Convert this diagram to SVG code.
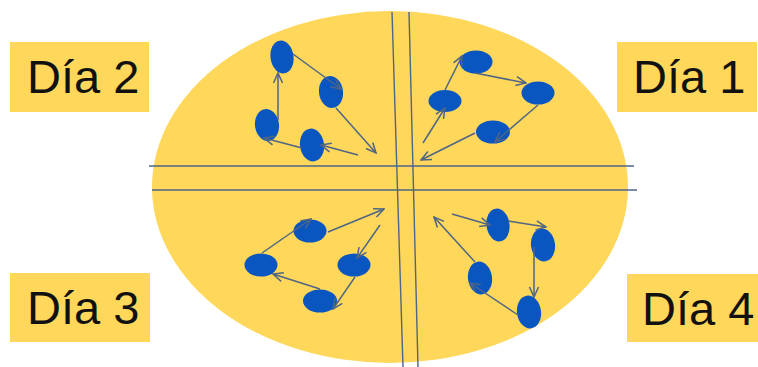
<svg xmlns="http://www.w3.org/2000/svg" width="758" height="367" viewBox="0 0 758 367">
<style>
.lbl{fill:#FFD75A}
.txt{font-family:"Liberation Sans",Arial,sans-serif;font-size:47px;fill:#111}
.node{fill:#0A56C0}
.ax{stroke:#4F6585;stroke-width:1.4;fill:none}
.c{stroke:#4F6585;stroke-width:1.5;fill:none;marker-end:url(#ah)}
</style>
<defs>
<marker id="ah" viewBox="0 0 12 12" refX="11" refY="6" markerWidth="12" markerHeight="12" markerUnits="userSpaceOnUse" orient="auto">
<path d="M1,1.5 L11,6 L1,10.5" fill="none" stroke="#4F6585" stroke-width="1.5"/>
</marker>
</defs>
<rect width="758" height="367" fill="#fff"/>
<g id="plate">
<ellipse cx="390" cy="187" rx="238" ry="176" fill="#FFD75A"/>
<line class="ax" x1="149" y1="166" x2="634" y2="166"/>
<line class="ax" x1="152" y1="190" x2="637" y2="190"/>
<line class="ax" x1="392" y1="12" x2="403" y2="367"/>
<line class="ax" x1="409" y1="12" x2="418" y2="367"/>
</g>
<g id="label-dia2"><rect class="lbl" x="10" y="42" width="139" height="70"/><text class="txt" x="27" y="93">Día 2</text></g>
<g id="label-dia1"><rect class="lbl" x="617" y="42" width="140" height="70"/><text class="txt" x="633" y="93">Día 1</text></g>
<g id="label-dia3"><rect class="lbl" x="10" y="273" width="140" height="69"/><text class="txt" x="27" y="324">Día 3</text></g>
<g id="label-dia4"><rect class="lbl" x="627" y="274" width="131" height="68"/><text class="txt" x="642" y="325">Día 4</text></g>
<g id="nodes-dia2">
<ellipse id="d2a" class="node" cx="282" cy="57" rx="11.5" ry="16.5" transform="rotate(-8 282 57)"/>
<ellipse id="d2b" class="node" cx="331" cy="92" rx="12" ry="16" transform="rotate(-8 331 92)"/>
<ellipse id="d2c" class="node" cx="267" cy="125" rx="12" ry="16" transform="rotate(-8 267 125)"/>
<ellipse id="d2d" class="node" cx="312" cy="145" rx="12" ry="16.5" transform="rotate(-8 312 145)"/>
</g>
<g id="nodes-dia1">
<ellipse id="d1e" class="node" cx="476" cy="62" rx="16.5" ry="11.5"/>
<ellipse id="d1f" class="node" cx="538" cy="93" rx="16.5" ry="11.5"/>
<ellipse id="d1g" class="node" cx="445" cy="101" rx="16.5" ry="11"/>
<ellipse id="d1h" class="node" cx="493" cy="132" rx="17" ry="11.5"/>
</g>
<g id="nodes-dia3">
<ellipse id="d3i" class="node" cx="310" cy="231" rx="16.5" ry="11.5"/>
<ellipse id="d3j" class="node" cx="261" cy="265" rx="16.5" ry="11.5"/>
<ellipse id="d3k" class="node" cx="354" cy="265" rx="16.5" ry="11.5"/>
<ellipse id="d3l" class="node" cx="320" cy="301" rx="17" ry="11.5"/>
</g>
<g id="nodes-dia4">
<ellipse id="d4m" class="node" cx="498" cy="225" rx="11.5" ry="16.5" transform="rotate(-8 498 225)"/>
<ellipse id="d4n" class="node" cx="543" cy="245" rx="12" ry="16.5" transform="rotate(-8 543 245)"/>
<ellipse id="d4o" class="node" cx="480" cy="278" rx="12" ry="16.5" transform="rotate(-8 480 278)"/>
<ellipse id="d4p" class="node" cx="529" cy="312" rx="12" ry="16.5" transform="rotate(-8 529 312)"/>
</g>
<g id="connectors">
<line class="c" x1="293" y1="54" x2="341" y2="89"/>
<line class="c" x1="336" y1="108" x2="376" y2="153"/>
<line class="c" x1="358" y1="155" x2="321" y2="145"/>
<line class="c" x1="302" y1="148" x2="264" y2="138"/>
<line class="c" x1="278" y1="120" x2="278" y2="73"/>
<line class="c" x1="423" y1="143" x2="445" y2="108"/>
<line class="c" x1="445" y1="90" x2="462" y2="56"/>
<line class="c" x1="475" y1="73" x2="526" y2="83"/>
<line class="c" x1="538" y1="105" x2="495" y2="142"/>
<line class="c" x1="475" y1="133" x2="421" y2="160"/>
<line class="c" x1="328" y1="232" x2="384" y2="209"/>
<line class="c" x1="380" y1="225" x2="357" y2="258"/>
<line class="c" x1="355" y1="277" x2="333" y2="309"/>
<line class="c" x1="320" y1="289" x2="273" y2="274"/>
<line class="c" x1="262" y1="253" x2="311" y2="219"/>
<line class="c" x1="452" y1="214" x2="490" y2="225"/>
<line class="c" x1="508" y1="221" x2="546" y2="227"/>
<line class="c" x1="534" y1="247" x2="534" y2="297"/>
<line class="c" x1="518" y1="315" x2="470" y2="283"/>
<line class="c" x1="475" y1="262" x2="434" y2="217"/>
</g>
</svg>
